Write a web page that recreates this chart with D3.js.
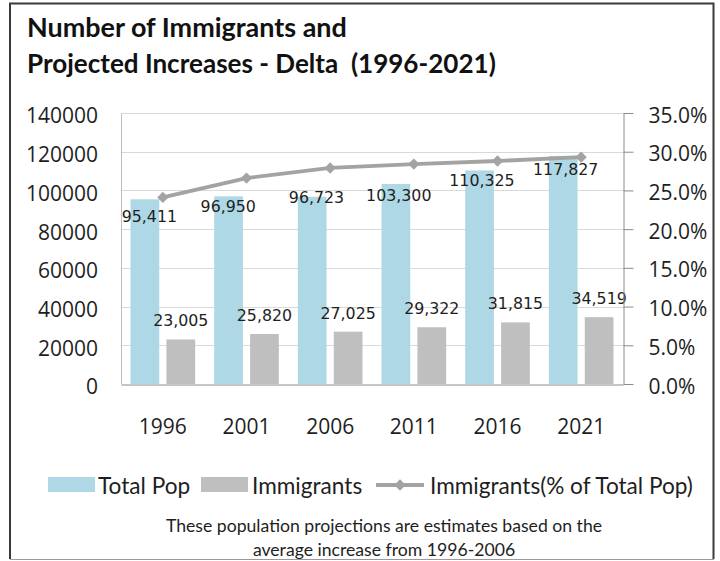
<!DOCTYPE html>
<html>
<head>
<meta charset="utf-8">
<script src="https://cdn.jsdelivr.net/npm/d3@7"></script>
<style>
  body { margin: 0; background: #fff; }
  text { white-space: pre; }
</style>
</head>
<body>
<svg id="chart" width="720" height="561"></svg>
<script>
// ---- data ----
const years = ["1996", "2001", "2006", "2011", "2016", "2021"];
const totalPop = [95411, 96950, 96723, 103300, 110325, 117827];
const immigrants = [23005, 25820, 27025, 29322, 31815, 34519];
const immigrantShare = [24.1, 26.6, 27.9, 28.4, 28.8, 29.3]; // % of total population
const leftTicks = [0, 20000, 40000, 60000, 80000, 100000, 120000, 140000];
const rightTicks = [0, 5, 10, 15, 20, 25, 30, 35];
const seriesNames = ["Total Pop", "Immigrants", "Immigrants(% of Total Pop)"];
const titleLines = ["Number of Immigrants and", "Projected Increases - Delta  (1996-2021)"];
const noteLines = [
  "These population projections are estimates based on the",
  "average increase from 1996-2006"
];

// ---- layout / style ----
const W = 720, H = 561;
const plot = { left: 121, right: 623, top: 113, bottom: 384 };
const colTotal = "#aed8e5", colImm = "#bfbfbf", colLine = "#a3a3a3";
const textCol = "#1e1e1e";
const axisFont = "'Open Sans', sans-serif";
const titleFont = "Lato, 'Open Sans', sans-serif";
const labelFont = "'DejaVu Sans', sans-serif";
// hand-placed offsets of the Total Pop value labels (dx, dy from bar top centre)
const totalLabelNudge = [[4.5, 17.4], [-0.3, 9.7], [4.3, 0.5], [2.9, 11], [2.4, 9.6], [2.5, 13.6]];

const svg = d3.select("#chart");
svg.append("rect").attr("width", W).attr("height", H).attr("fill", "#fff");

// outer frame
svg.append("path")
  .attr("d", `M10,559 V3.5 H713.5 V559`)
  .attr("fill", "none").attr("stroke", "#3a3a3a").attr("stroke-width", 2);
svg.append("line").attr("x1", 10).attr("x2", 714).attr("y1", 559.5).attr("y2", 559.5)
  .attr("stroke", "#9a9a9a").attr("stroke-width", 1);

function fitWidth(sel, target) {
  sel.each(function () {
    const t = d3.select(this);
    const w = this.getComputedTextLength();
    const fs = parseFloat(t.attr("font-size"));
    t.attr("font-size", (fs * target / w).toFixed(2));
  });
}

// ---- title ----
const titleTargets = [[37, 320], [73, 469]];
titleLines.forEach((s, i) => {
  const t = svg.append("text")
    .attr("x", 27).attr("y", titleTargets[i][0])
    .attr("font-family", titleFont).attr("font-weight", 700)
    .attr("font-size", 24).attr("fill", "#111")
    .text(s);
  fitWidth(t, titleTargets[i][1]);
});

// ---- scales ----
const x0 = d3.scaleBand().domain(years).range([plot.left, plot.right]).padding(0);
const x1 = d3.scaleBand().domain(["total", "imm"]).range([0, x0.bandwidth()])
  .paddingInner(0.2).paddingOuter(0.265);
const yL = d3.scaleLinear().domain([0, 140000]).range([plot.bottom, plot.top]);
const yR = d3.scaleLinear().domain([0, 35]).range([plot.bottom, plot.top]);

// gridlines
svg.append("g").selectAll("line").data(leftTicks.slice(1)).join("line")
  .attr("x1", plot.left).attr("x2", plot.right)
  .attr("y1", d => Math.round(yL(d)) + 0.5).attr("y2", d => Math.round(yL(d)) + 0.5)
  .attr("stroke", "#d9d9d9").attr("stroke-width", 1);

// bars
const groups = svg.append("g").selectAll("g").data(years).join("g")
  .attr("transform", d => `translate(${x0(d)},0)`);
groups.append("rect")
  .attr("x", x1("total")).attr("width", x1.bandwidth())
  .attr("y", (d, i) => yL(totalPop[i])).attr("height", (d, i) => yL(0) - yL(totalPop[i]))
  .attr("fill", colTotal);
groups.append("rect")
  .attr("x", x1("imm")).attr("width", x1.bandwidth())
  .attr("y", (d, i) => yL(immigrants[i])).attr("height", (d, i) => yL(0) - yL(immigrants[i]))
  .attr("fill", colImm);

// share line
const cx = d => x0(d) + x0.bandwidth() / 2;
const line = d3.line().x((d, i) => cx(years[i])).y(d => yR(d));
svg.append("path").datum(immigrantShare)
  .attr("d", line).attr("fill", "none")
  .attr("stroke", colLine).attr("stroke-width", 3.8).attr("stroke-linejoin", "round");
const diamond = d3.symbol().type(d3.symbolSquare).size(64);
svg.append("g").selectAll("path").data(immigrantShare).join("path")
  .attr("d", diamond)
  .attr("transform", (d, i) => `translate(${cx(years[i])},${yR(d)}) rotate(45)`)
  .attr("fill", colLine);

// value labels
const fmt = d3.format(",");
svg.append("g").selectAll("text").data(totalPop).join("text")
  .attr("x", (d, i) => x0(years[i]) + x1("total") + x1.bandwidth() / 2 + totalLabelNudge[i][0])
  .attr("y", (d, i) => yL(d) + totalLabelNudge[i][1])
  .attr("dominant-baseline", "central").attr("text-anchor", "middle")
  .attr("font-family", labelFont).attr("font-size", 15.8).attr("fill", textCol)
  .text(d => fmt(d));
svg.append("g").selectAll("text").data(immigrants).join("text")
  .attr("x", (d, i) => x0(years[i]) + x1("imm") + x1.bandwidth() / 2)
  .attr("y", d => yL(d) - 18.5)
  .attr("dominant-baseline", "central").attr("text-anchor", "middle")
  .attr("font-family", labelFont).attr("font-size", 15.8).attr("fill", textCol)
  .text(d => fmt(d));

// ---- axes ----
const axL = svg.append("g").attr("transform", `translate(${plot.left},0)`)
  .call(d3.axisLeft(yL).tickValues(leftTicks).tickFormat(d3.format("d")).tickSize(0).tickPadding(23));
axL.select(".domain").attr("stroke", "#bfbfbf");
axL.selectAll("text").attr("dy", "0.47em");

const axR = svg.append("g").attr("transform", `translate(${plot.right + 0.5},0)`)
  .call(d3.axisRight(yR).tickValues(rightTicks).tickFormat(d => d3.format(".1f")(d) + "%")
    .tickSizeInner(10).tickSizeOuter(0).tickPadding(15));
axR.selectAll(".domain, line").attr("stroke", "#8c8c8c");
axR.selectAll("text").attr("dy", "0.43em");

const axB = svg.append("g").attr("transform", `translate(0,${plot.bottom + 0.5})`)
  .call(d3.axisBottom(x0).tickSize(0).tickPadding(35));
axB.select(".domain").attr("stroke", "#8c8c8c");

[axL, axR, axB].forEach(a => {
  a.attr("font-family", axisFont).attr("font-size", 21);
  a.selectAll("text").attr("fill", textCol);
});

// ---- legend ----
const lg = svg.append("g");
const legY = 485;
lg.append("rect").attr("x", 48).attr("y", 477).attr("width", 47).attr("height", 15).attr("fill", colTotal);
lg.append("rect").attr("x", 201).attr("y", 477).attr("width", 47).attr("height", 15).attr("fill", colImm);
lg.append("line").attr("x1", 376).attr("x2", 424).attr("y1", legY).attr("y2", legY)
  .attr("stroke", colLine).attr("stroke-width", 3.8);
lg.append("path").attr("d", diamond).attr("transform", `translate(400,${legY}) rotate(45)`).attr("fill", colLine);
const legX = [98, 252, 430];
const legText = lg.selectAll("text").data(seriesNames).join("text")
  .attr("x", (d, i) => legX[i]).attr("y", 494)
  .attr("font-family", titleFont).attr("font-size", 20).attr("fill", textCol)
  .text(d => d);
// common size, set from the longest entry
const longest = legText.filter((d, i) => i === 2).node();
const legSize = 20 * 263 / longest.getComputedTextLength();
legText.attr("font-size", legSize.toFixed(2));

// ---- note ----
const notes = svg.append("g").selectAll("text").data(noteLines).join("text")
  .attr("x", 384).attr("y", (d, i) => [532, 555.5][i])
  .attr("text-anchor", "middle")
  .attr("font-family", titleFont).attr("font-size", 15).attr("fill", textCol)
  .text(d => d);
const noteSize = 15 * 436.5 / notes.filter((d, i) => i === 0).node().getComputedTextLength();
notes.attr("font-size", noteSize.toFixed(2));
</script>
</body>
</html>
